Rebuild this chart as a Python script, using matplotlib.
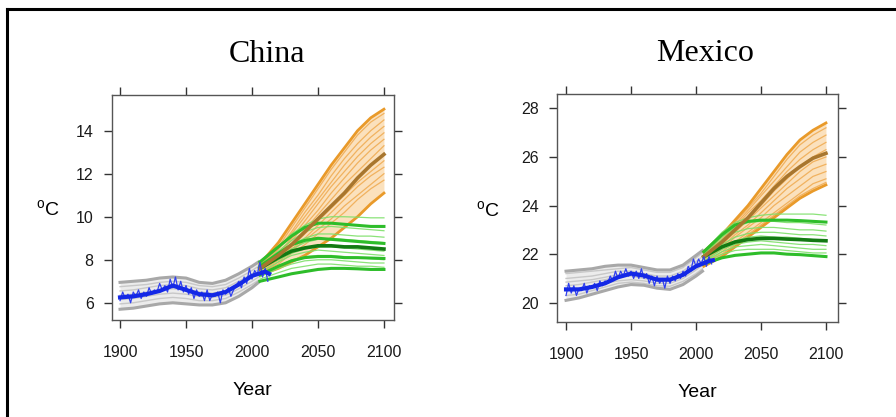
import matplotlib
matplotlib.use("Agg")
import matplotlib.pyplot as plt
from matplotlib.lines import Line2D
import numpy as np

# ---- data -------------------------------------------------------------
hist_years = [1900, 1910, 1920, 1930, 1940, 1950, 1960, 1970, 1980, 1990, 2000, 2005]
proj_years = [2006, 2020, 2030, 2040, 2050, 2060, 2070, 2080, 2090, 2100]
obs_years = list(range(1900, 2013, 2))
smooth_years = [1900, 1910, 1920, 1930, 1940, 1950, 1960, 1970, 1980, 1990, 2000, 2010, 2013]

# China
china_obs = [6.1, 6.5, 6.2, 6.4, 6.0, 6.5, 6.3, 6.6, 6.2, 6.5, 6.3, 6.7, 6.4, 6.6, 6.5,
             6.9, 6.6, 6.8, 6.5, 7.1, 6.7, 7.2, 6.6, 7.0, 6.5, 6.8, 6.4, 6.7, 6.2, 6.6,
             6.3, 6.5, 6.1, 6.6, 6.1, 6.4, 6.3, 6.5, 6.0, 6.6, 6.4, 6.7, 6.3, 6.6, 6.8,
             7.0, 6.7, 7.2, 6.9, 7.6, 7.1, 7.5, 7.3, 7.9, 7.2, 7.6, 7.0]
china_smooth = [6.25, 6.3, 6.4, 6.55, 6.8, 6.6, 6.4, 6.35, 6.5, 6.85, 7.25, 7.45, 7.35]
china_gray_thick = [
    [6.95, 7.0, 7.05, 7.15, 7.2, 7.15, 6.95, 6.9, 7.05, 7.35, 7.7, 7.9],
    [5.7, 5.75, 5.85, 5.95, 6.0, 5.95, 5.9, 5.9, 6.0, 6.3, 6.7, 6.95],
]
china_gray = [
    [6.75, 6.8, 6.85, 6.95, 7.0, 6.95, 6.8, 6.75, 6.85, 7.15, 7.5, 7.7],
    [6.55, 6.6, 6.7, 6.8, 6.85, 6.8, 6.65, 6.6, 6.7, 7.0, 7.35, 7.55],
    [6.35, 6.4, 6.5, 6.6, 6.65, 6.6, 6.5, 6.45, 6.55, 6.85, 7.2, 7.4],
    [6.15, 6.2, 6.3, 6.4, 6.45, 6.4, 6.3, 6.25, 6.35, 6.65, 7.0, 7.2],
    [5.95, 6.0, 6.1, 6.2, 6.25, 6.2, 6.1, 6.1, 6.2, 6.5, 6.85, 7.05],
]
china_orange_thick = [
    [7.8, 8.8, 9.7, 10.6, 11.5, 12.4, 13.2, 14.0, 14.6, 15.0],
    [7.3, 7.6, 7.9, 8.2, 8.6, 9.0, 9.5, 10.0, 10.6, 11.1],
]
china_orange_mid = [7.6, 8.2, 8.7, 9.3, 9.9, 10.5, 11.1, 11.8, 12.4, 12.9]
china_orange = [
    [7.7, 8.6, 9.5, 10.4, 11.3, 12.2, 13.0, 13.8, 14.4, 14.8],
    [7.6, 8.5, 9.3, 10.2, 11.0, 11.9, 12.7, 13.4, 14.0, 14.5],
    [7.8, 8.5, 9.2, 10.0, 10.8, 11.6, 12.4, 13.1, 13.7, 14.2],
    [7.5, 8.3, 9.0, 9.8, 10.6, 11.4, 12.1, 12.8, 13.4, 13.9],
    [7.6, 8.3, 8.9, 9.6, 10.3, 11.1, 11.8, 12.5, 13.1, 13.6],
    [7.5, 8.1, 8.7, 9.4, 10.1, 10.8, 11.5, 12.1, 12.7, 13.3],
    [7.4, 8.0, 8.6, 9.2, 9.8, 10.4, 11.0, 11.6, 12.1, 12.6],
    [7.5, 8.0, 8.5, 9.0, 9.6, 10.2, 10.8, 11.4, 11.9, 12.3],
    [7.3, 7.9, 8.4, 8.9, 9.4, 9.9, 10.5, 11.0, 11.5, 12.0],
    [7.4, 7.8, 8.3, 8.7, 9.2, 9.7, 10.2, 10.8, 11.3, 11.7],
]
china_green_thick = [
    [7.9, 8.6, 9.1, 9.5, 9.7, 9.7, 9.65, 9.6, 9.55, 9.55],
    [7.7, 8.3, 8.7, 8.9, 9.0, 8.95, 8.9, 8.85, 8.8, 8.76],
    [7.3, 7.7, 7.95, 8.1, 8.15, 8.15, 8.1, 8.1, 8.08, 8.06],
    [7.0, 7.2, 7.35, 7.45, 7.55, 7.6, 7.6, 7.58, 7.55, 7.55],
]
china_green_mid = [7.6, 8.1, 8.4, 8.55, 8.65, 8.65, 8.6, 8.6, 8.55, 8.5]
china_green = [
    [7.8, 8.6, 9.2, 9.6, 9.9, 10.0, 10.0, 9.98, 9.95, 9.95],
    [7.7, 8.4, 8.9, 9.3, 9.5, 9.55, 9.5, 9.45, 9.4, 9.35],
    [7.6, 8.3, 8.7, 9.0, 9.2, 9.2, 9.15, 9.1, 9.1, 9.05],
    [7.5, 8.1, 8.5, 8.8, 8.95, 9.0, 8.95, 8.9, 8.85, 8.8],
    [7.6, 8.0, 8.3, 8.5, 8.6, 8.6, 8.55, 8.5, 8.45, 8.4],
    [7.4, 7.9, 8.2, 8.35, 8.45, 8.4, 8.35, 8.3, 8.25, 8.2],
    [7.3, 7.7, 8.0, 8.15, 8.2, 8.2, 8.15, 8.1, 8.05, 8.0],
    [7.2, 7.6, 7.8, 7.95, 8.0, 8.0, 7.95, 7.9, 7.85, 7.85],
    [7.1, 7.4, 7.6, 7.7, 7.8, 7.8, 7.75, 7.7, 7.7, 7.65],
]

# Mexico
mexico_obs = [20.3, 20.8, 20.4, 20.7, 20.3, 20.6, 20.5, 20.8, 20.4, 20.7, 20.6, 20.8, 20.5,
              20.9, 20.7, 20.9, 20.8, 21.1, 20.9, 21.3, 21.0, 21.3, 21.1, 21.4, 21.1, 21.3,
              21.0, 21.3, 21.0, 21.4, 21.0, 21.2, 20.8, 21.1, 20.7, 21.1, 20.8, 21.0, 20.6,
              21.1, 20.8, 21.1, 20.9, 21.2, 21.0, 21.3, 21.1, 21.5, 21.3, 21.8, 21.5, 21.8,
              21.6, 21.9, 21.5, 21.9, 21.6]
mexico_smooth = [20.55, 20.55, 20.65, 20.8, 21.05, 21.2, 21.12, 20.95, 20.95, 21.15, 21.5, 21.72, 21.75]
mexico_gray_thick = [
    [21.3, 21.35, 21.4, 21.5, 21.55, 21.55, 21.45, 21.35, 21.35, 21.55, 21.95, 22.15],
    [20.1, 20.2, 20.35, 20.5, 20.65, 20.75, 20.72, 20.6, 20.55, 20.75, 21.1, 21.3],
]
mexico_gray = [
    [21.2, 21.25, 21.3, 21.35, 21.4, 21.45, 21.35, 21.25, 21.25, 21.45, 21.85, 22.05],
    [21.0, 21.05, 21.1, 21.2, 21.3, 21.3, 21.2, 21.1, 21.1, 21.3, 21.7, 21.9],
    [20.85, 20.9, 20.95, 21.05, 21.15, 21.2, 21.1, 21.0, 21.0, 21.2, 21.55, 21.75],
    [20.7, 20.75, 20.85, 20.95, 21.05, 21.1, 21.0, 20.9, 20.9, 21.1, 21.45, 21.65],
    [20.5, 20.55, 20.65, 20.8, 20.9, 20.95, 20.9, 20.8, 20.8, 21.0, 21.35, 21.55],
    [20.3, 20.35, 20.5, 20.65, 20.8, 20.85, 20.8, 20.7, 20.68, 20.88, 21.2, 21.4],
]
mexico_orange_thick = [
    [22.1, 22.8, 23.4, 24.0, 24.7, 25.4, 26.1, 26.7, 27.1, 27.4],
    [21.5, 21.9, 22.3, 22.7, 23.1, 23.5, 23.9, 24.3, 24.6, 24.85],
]
mexico_orange_mid = [21.9, 22.5, 23.0, 23.5, 24.1, 24.7, 25.2, 25.6, 25.95, 26.15]
mexico_orange = [
    [22.0, 22.7, 23.3, 23.9, 24.5, 25.2, 25.9, 26.5, 26.9, 27.2],
    [21.9, 22.6, 23.2, 23.8, 24.4, 25.0, 25.6, 26.2, 26.6, 26.9],
    [22.0, 22.6, 23.1, 23.7, 24.2, 24.8, 25.4, 25.9, 26.3, 26.6],
    [21.8, 22.5, 23.0, 23.5, 24.0, 24.6, 25.1, 25.6, 26.0, 26.3],
    [21.9, 22.4, 22.9, 23.4, 23.9, 24.4, 24.9, 25.4, 25.8, 26.0],
    [21.7, 22.3, 22.8, 23.2, 23.7, 24.2, 24.7, 25.1, 25.5, 25.7],
    [21.8, 22.2, 22.7, 23.1, 23.5, 24.0, 24.4, 24.8, 25.2, 25.4],
    [21.6, 22.1, 22.5, 22.9, 23.3, 23.7, 24.1, 24.5, 24.9, 25.1],
    [21.7, 22.0, 22.4, 22.8, 23.2, 23.6, 24.0, 24.4, 24.7, 24.95],
]
mexico_green_thick = [
    [22.1, 22.8, 23.2, 23.35, 23.4, 23.4, 23.4, 23.38, 23.35, 23.32],
    [21.6, 21.85, 21.95, 22.0, 22.05, 22.05, 22.0, 21.98, 21.94, 21.9],
]
mexico_green_mid = [21.9, 22.3, 22.5, 22.6, 22.65, 22.65, 22.62, 22.6, 22.57, 22.55]
mexico_green = [
    [22.1, 22.9, 23.3, 23.5, 23.6, 23.65, 23.65, 23.65, 23.65, 23.6],
    [22.0, 22.7, 23.1, 23.3, 23.35, 23.35, 23.3, 23.3, 23.25, 23.2],
    [21.9, 22.6, 22.9, 23.05, 23.1, 23.1, 23.05, 23.0, 23.0, 22.95],
    [21.9, 22.4, 22.7, 22.85, 22.9, 22.9, 22.85, 22.8, 22.8, 22.75],
    [21.8, 22.3, 22.55, 22.7, 22.75, 22.7, 22.7, 22.65, 22.6, 22.6],
    [21.7, 22.2, 22.4, 22.5, 22.55, 22.5, 22.45, 22.4, 22.4, 22.35],
    [21.7, 22.1, 22.3, 22.35, 22.4, 22.35, 22.3, 22.25, 22.2, 22.2],
    [21.6, 22.0, 22.15, 22.2, 22.2, 22.2, 22.15, 22.1, 22.05, 22.05],
]

x_ticks = [1900, 1950, 2000, 2050, 2100]
china_yticks = [6, 8, 10, 12, 14]
mexico_yticks = [20, 22, 24, 26, 28]


def draw_panel(ax, gray, gray_thick, obs, smooth, orange, orange_thick, orange_mid,
               green, green_thick, green_mid):
    # historical model runs
    ax.fill_between(hist_years, gray_thick[1], gray_thick[0], color='#ececec', lw=0)
    for g in gray:
        ax.plot(hist_years, g, color='#c8c8c8', lw=1.0)
    for g in gray_thick:
        ax.plot(hist_years, g, color='#a8a8a8', lw=2.2)

    # high emissions (orange)
    o_all = np.array(orange + orange_thick)
    ax.fill_between(proj_years, o_all.min(axis=0), o_all.max(axis=0), color='#fbe1bd', lw=0)
    for o in orange:
        ax.plot(proj_years, o, color='#f0ad55', lw=0.9, alpha=0.9)
    for o in orange_thick:
        ax.plot(proj_years, o, color='#e99a2a', lw=2.0)

    # low emissions (green)
    for g in green:
        ax.plot(proj_years, g, color='#7ee06a', lw=0.9, alpha=0.9)
    for g in green_thick:
        ax.plot(proj_years, g, color='#2ebd2a', lw=2.2)
    ax.plot(proj_years, green_mid, color='#137a13', lw=2.6)
    ax.plot(proj_years, orange_mid, color='#a8762e', lw=2.6)

    # observations
    ax.plot(obs_years, obs, color='#3040f0', lw=0.9)
    ax.plot(smooth_years, smooth, color='#1428e6', lw=3.0)


plt.rcParams['font.family'] = ['Liberation Sans', 'DejaVu Sans']
fig = plt.figure(figsize=(8.96, 4.17), dpi=100)

ax1 = fig.add_axes([0.1247, 0.2326, 0.315, 0.5396])
ax2 = fig.add_axes([0.6213, 0.2285, 0.3143, 0.546])

draw_panel(ax1, china_gray, china_gray_thick, china_obs, china_smooth, china_orange,
           china_orange_thick, china_orange_mid, china_green, china_green_thick, china_green_mid)
draw_panel(ax2, mexico_gray, mexico_gray_thick, mexico_obs, mexico_smooth, mexico_orange,
           mexico_orange_thick, mexico_orange_mid, mexico_green, mexico_green_thick, mexico_green_mid)

ax1.set_xlim(1893.7, 2107.6)
ax1.set_ylim(5.2, 15.66)
ax1.set_yticks(china_yticks)
ax2.set_xlim(1892.8, 2109.5)
ax2.set_ylim(19.22, 28.59)
ax2.set_yticks(mexico_yticks)

for ax, title, tx, ylx in [(ax1, 'China', 0.55, -0.225), (ax2, 'Mexico', 0.527, -0.244)]:
    ax.set_xticks(x_ticks)
    ax.tick_params(direction='out', length=6, width=1, color='#333333',
                   top=True, right=True, labelsize=11.5, labelcolor='#1a1a1a')
    ax.tick_params(axis='x', pad=12)
    ax.tick_params(axis='y', pad=7)
    for s in ax.spines.values():
        s.set_color('#555555')
        s.set_linewidth(1)
    ax.set_xlabel('Year', fontsize=14, labelpad=16)
    ax.text(ylx, 0.49, r'$^{\mathregular{o}}$C', transform=ax.transAxes,
            fontsize=14, ha='center', va='center')
    ax.set_title(title, family='Liberation Serif', fontsize=23, pad=24, x=tx)

# outer frame
fig.add_artist(Line2D([7 / 896, 1.0], [1 - 9 / 417] * 2, color='black', lw=2.2,
                      transform=fig.transFigure))
fig.add_artist(Line2D([7 / 896] * 2, [0.0, 1 - 9 / 417], color='black', lw=2.2,
                      transform=fig.transFigure))

fig.savefig('out.png', dpi=100)
